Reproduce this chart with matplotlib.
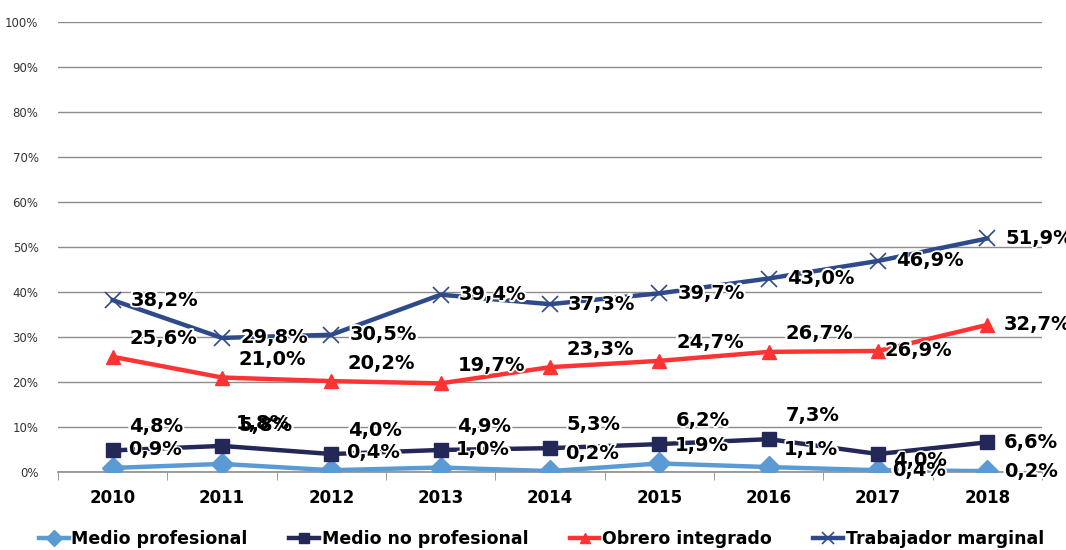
import matplotlib
matplotlib.use("Agg")
import matplotlib.pyplot as plt
import matplotlib.patheffects as pe
from matplotlib.ticker import MultipleLocator, PercentFormatter

# datos (%)
years = ["2010", "2011", "2012", "2013", "2014", "2015", "2016", "2017", "2018"]
medio_prof = [0.9, 1.8, 0.4, 1.0, 0.2, 1.9, 1.1, 0.4, 0.2]
medio_no_prof = [4.8, 5.8, 4.0, 4.9, 5.3, 6.2, 7.3, 4.0, 6.6]
obrero = [25.6, 21.0, 20.2, 19.7, 23.3, 24.7, 26.7, 26.9, 32.7]
marginal = [38.2, 29.8, 30.5, 39.4, 37.3, 39.7, 43.0, 46.9, 51.9]
names = ["Medio profesional", "Medio no profesional", "Obrero integrado", "Trabajador marginal"]

# estilo de cada serie: color, marcador, tamaño, desplazamientos de etiquetas (pt)
styles = [
    ("#5B9BD5", "D", 11, [(11, 13), (10, 29)] + [(11, 13)] * 5 + [(10, 0), (12, 0)]),
    ("#232858", "s", 10, [(12, 17), (12, 15)] + [(12, 17)] * 5 + [(11, -5), (12, 0)]),
    ("#FF3333", "^", 10, [(12, 13)] * 7 + [(5, 0), (12, 0)]),
    ("#2E4A8A", "x", 12, [(13, 0)] * 9),
]

fig = plt.figure(figsize=(10.66, 5.5), dpi=100)
ax = fig.add_axes([0.0544, 0.1418, 0.9231, 0.8182])

x = list(range(len(years)))
series = [medio_prof, medio_no_prof, obrero, marginal]
for vals, name, (col, mk, ms, offs) in zip(series, names, styles):
    ax.plot(x, vals, color=col, lw=3.2, marker=mk, ms=ms,
            mew=1.2 if mk == "x" else 1, label=name, zorder=3)

# etiquetas de datos: primero el halo blanco, luego el texto negro
for halo in (True, False):
    for vals, (col, mk, ms, offs) in zip(series, styles):
        for i, v in enumerate(vals):
            kw = {}
            if halo:
                kw["path_effects"] = [pe.withStroke(linewidth=2.5, foreground="white")]
            ax.annotate(("%.1f%%" % v).replace(".", ","), (i, v),
                        xytext=offs[i], textcoords="offset points",
                        ha="left", va="center", fontsize=14, fontweight="bold",
                        color="white" if halo else "black",
                        zorder=4 if halo else 5, annotation_clip=False, **kw)

ax.set_xlim(-0.5, len(years) - 0.5)
ax.set_ylim(0, 100)
ax.yaxis.set_major_locator(MultipleLocator(10))
ax.yaxis.set_major_formatter(PercentFormatter(decimals=0))
ax.grid(axis="y", color="#8C8C8C", lw=1)
ax.set_axisbelow(True)
for s in ["top", "right", "left"]:
    ax.spines[s].set_visible(False)
ax.spines["bottom"].set_color("#8C8C8C")
ax.spines["bottom"].set_linewidth(1.2)

ax.set_xticks(x)
ax.set_xticklabels(years, fontsize=12, fontweight="bold")
ax.set_xticks([i - 0.5 for i in range(len(years) + 1)], minor=True)
ax.tick_params(axis="x", which="major", length=0, pad=12)
ax.tick_params(axis="x", which="minor", length=6, color="#8C8C8C")
ax.tick_params(axis="y", length=0, labelsize=8.5, labelcolor="#333333", pad=14)

fig.legend(loc="lower center", bbox_to_anchor=(0.508, -0.025), ncol=4, frameon=False,
           prop={"weight": "bold", "size": 12.5}, handlelength=1.7, handletextpad=0.15,
           columnspacing=2.4, markerscale=0.75)

fig.savefig("out.png", dpi=100)
